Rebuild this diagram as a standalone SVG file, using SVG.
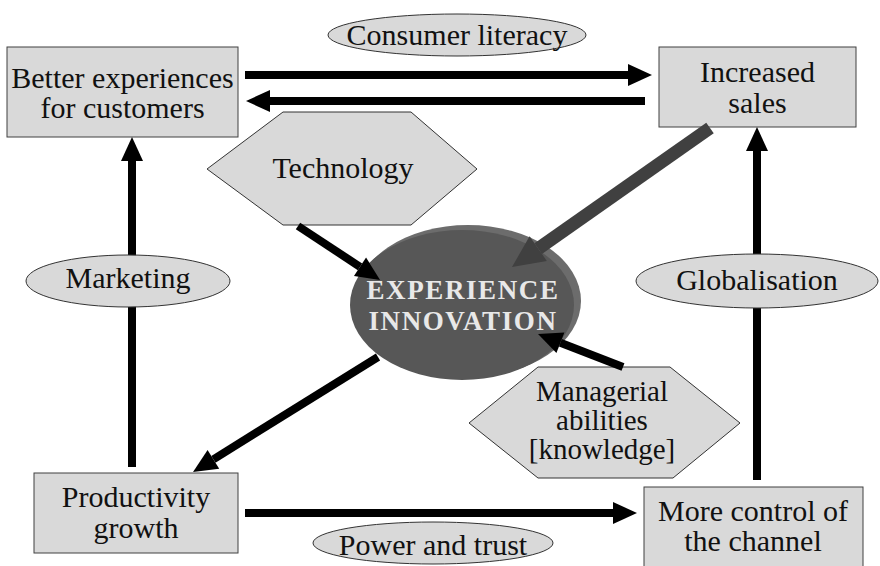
<svg xmlns="http://www.w3.org/2000/svg" width="880" height="566" viewBox="0 0 880 566">
<style>
.box{fill:#d9d9d9;stroke:#404040;stroke-width:1}
.ell{fill:#d9d9d9;stroke:#333;stroke-width:1}
.hex{fill:#d9d9d9;stroke:#333;stroke-width:1}
.t{font-size:30px;fill:#111;text-anchor:middle}
.m{font-size:29px;fill:#111;text-anchor:middle}
.core{font-size:27px;font-weight:bold;fill:#e8e8e8;text-anchor:middle;letter-spacing:1.6px}
.a{stroke:#000;stroke-width:8;fill:none;marker-end:url(#ah)}
.ad{stroke:#404040;stroke-width:13;fill:none;marker-end:url(#ahd)}
</style>
<defs>
<marker id="ah" markerUnits="userSpaceOnUse" markerWidth="24" markerHeight="22" refX="0" refY="11" orient="auto" overflow="visible"><path d="M0,0 L24,11 L0,22 z" fill="#000"/></marker>
<marker id="ahd" markerUnits="userSpaceOnUse" markerWidth="32" markerHeight="30" refX="0" refY="15" orient="auto" overflow="visible"><path d="M0,0 L32,15 L0,30 z" fill="#404040"/></marker>
</defs>
<rect width="880" height="566" fill="#fff"/>
<g font-family="Liberation Serif, Times New Roman, Times, serif">

<g id="better-experiences"><rect class="box" x="7" y="47" width="231" height="90"/><text class="t" x="122.5" y="88">Better experiences</text><text class="t" x="122.5" y="118">for customers</text></g>
<g id="increased-sales"><rect class="box" x="659" y="47" width="197" height="80"/><text class="t" x="757.5" y="82">Increased</text><text class="t" x="757.5" y="113">sales</text></g>
<g id="technology"><polygon class="hex" points="207,169 283,112 411,112 477,169 411,225 283,225"/><text class="t" x="343" y="178">Technology</text></g>
<g id="experience-innovation">
<ellipse cx="468" cy="301" rx="113" ry="76" fill="#6c6c6c"/>
<ellipse cx="462" cy="305" rx="112" ry="75" fill="#575757"/>
<text class="core" x="463" y="299">EXPERIENCE</text><text class="core" x="463" y="330">INNOVATION</text>
</g>
<g id="managerial"><polygon class="hex" points="469,423 538,367 670,367 740,423 673,478 538,478"/><text class="m" x="602" y="401">Managerial</text><text class="m" x="602" y="430">abilities</text><text class="m" x="602" y="459">[knowledge]</text></g>
<g id="productivity"><rect class="box" x="34" y="473" width="204" height="80"/><text class="t" x="136" y="507">Productivity</text><text class="t" x="136" y="538">growth</text></g>
<g id="more-control"><rect class="box" x="644" y="487" width="219" height="82"/><text class="t" x="753" y="521">More control of</text><text class="t" x="753" y="551">the channel</text></g>

<g id="connectors">
<line class="a" x1="245" y1="75" x2="628" y2="75"/>
<line class="a" x1="645" y1="101" x2="270" y2="101"/>
<line class="a" x1="132" y1="467" x2="132" y2="161"/>
<line class="a" x1="757" y1="480" x2="757" y2="151"/>
<line class="a" x1="245" y1="513" x2="613" y2="513"/>
<line class="a" x1="298" y1="226" x2="360" y2="266.8"/>
<line class="a" x1="378" y1="357" x2="213.4" y2="459.3"/>
<line class="a" x1="623" y1="367" x2="560.4" y2="342.7"/>
<line class="ad" x1="710" y1="128" x2="538.2" y2="248.6"/>
</g>

<g id="consumer-literacy"><ellipse class="ell" cx="457" cy="35" rx="129" ry="21"/><text class="t" x="457" y="45">Consumer literacy</text></g>
<g id="marketing"><ellipse class="ell" cx="128" cy="281" rx="102" ry="26"/><text class="t" x="128" y="288">Marketing</text></g>
<g id="globalisation"><ellipse class="ell" cx="757" cy="281" rx="121" ry="27"/><text class="t" x="757" y="290">Globalisation</text></g>
<g id="power-trust"><ellipse class="ell" cx="433" cy="543" rx="120" ry="21"/><text class="t" x="433" y="555">Power and trust</text></g>
</g>
</svg>
